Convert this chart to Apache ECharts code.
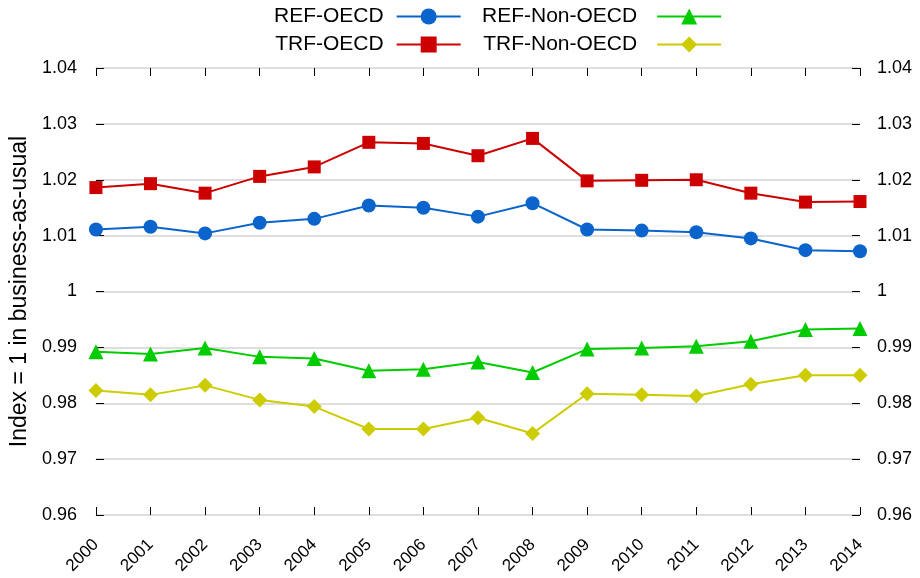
<!DOCTYPE html>
<html>
<head>
<meta charset="utf-8">
<script src="https://cdn.jsdelivr.net/npm/echarts@6/dist/echarts.min.js"></script>
<style>html,body{margin:0;padding:0;background:#fff;}#c{width:920px;height:578px;}</style>
</head>
<body>
<div id="c"></div>
<script>
const years = ['2000','2001','2002','2003','2004','2005','2006','2007','2008','2009','2010','2011','2012','2013','2014'];
const refOECD = [1.0111,1.0116,1.0104,1.0123,1.0130,1.0154,1.0150,1.0134,1.0158,1.0111,1.0109,1.0106,1.0095,1.0074,1.0072];
const trfOECD = [1.0186,1.0193,1.0176,1.0206,1.0223,1.0267,1.0265,1.0243,1.0274,1.0198,1.0199,1.0200,1.0176,1.0160,1.0161];
const refNonOECD = [0.9892,0.9888,0.9899,0.9883,0.9880,0.9858,0.9861,0.9874,0.9855,0.9897,0.9899,0.9902,0.9911,0.9932,0.9934];
const trfNonOECD = [0.9823,0.9815,0.9832,0.9806,0.9794,0.9754,0.9754,0.9774,0.9746,0.9817,0.9815,0.9813,0.9834,0.9850,0.9850];
const yMin = 0.96, yMax = 1.04, yStep = 0.01;

const FONT = "'Liberation Sans', Arial, sans-serif";
const chart = echarts.init(document.getElementById('c'));
const fmt = v => String(+v.toFixed(2));
const mk = (name, data, color, symbol, size) => ({
  name, type: 'line', data, symbol, symbolSize: size, showSymbol: true,
  xAxisIndex: 0, yAxisIndex: 0,
  lineStyle: {color, width: 2}, itemStyle: {color},
  emphasis: {disabled: true}, animation: false
});
const legendCommon = {
  orient: 'vertical', align: 'right', top: 1, itemGap: 7,
  itemWidth: 64, itemHeight: 20
};
const legText = pad => ({fontFamily: FONT, fontSize: 21, color: '#000', padding: [0, pad, 0, 0]});
chart.setOption({
  animation: false,
  textStyle: {fontFamily: FONT},
  legend: [
    Object.assign({}, legendCommon, {left: 269, textStyle: legText(8), data: ['REF-OECD', 'TRF-OECD']}),
    Object.assign({}, legendCommon, {left: 477, textStyle: legText(15), data: ['REF-Non-OECD', 'TRF-Non-OECD']})
  ],
  grid: {left: 95, right: 60, top: 68, bottom: 63, containLabel: false},
  xAxis: [
    {type: 'category', data: years, boundaryGap: false, position: 'bottom',
     axisLine: {show: false},
     axisTick: {show: true, inside: true, length: 8, lineStyle: {color: '#000', width: 1}},
     axisLabel: {rotate: 45, fontSize: 17, color: '#000', margin: 27, fontFamily: FONT},
     splitLine: {show: false}},
    {type: 'category', data: years, boundaryGap: false, position: 'top',
     axisLine: {show: false},
     axisTick: {show: true, inside: true, length: 8, lineStyle: {color: '#000', width: 1}},
     axisLabel: {show: false}, splitLine: {show: false}}
  ],
  yAxis: [
    {type: 'value', min: yMin, max: yMax, interval: yStep, position: 'left',
     name: 'Index = 1 in business-as-usual', nameLocation: 'middle', nameGap: 64,
     nameTextStyle: {fontSize: 23, color: '#000', fontFamily: FONT},
     axisLine: {show: false},
     axisTick: {show: true, inside: true, length: 8, lineStyle: {color: '#000'}},
     axisLabel: {formatter: fmt, fontSize: 18, color: '#000', margin: 19, fontFamily: FONT},
     splitLine: {show: true, lineStyle: {color: '#d3d3d3', width: 1.5}}},
    {type: 'value', min: yMin, max: yMax, interval: yStep, position: 'right',
     axisLine: {show: false},
     axisTick: {show: true, inside: true, length: 8, lineStyle: {color: '#000'}},
     axisLabel: {formatter: fmt, fontSize: 18, color: '#000', margin: 17, fontFamily: FONT},
     splitLine: {show: false}}
  ],
  series: [
    mk('REF-OECD', refOECD, '#0a64cc', 'circle', 14),
    mk('REF-Non-OECD', refNonOECD, '#00cc00', 'triangle', 15),
    mk('TRF-OECD', trfOECD, '#cc0000', 'rect', 13),
    mk('TRF-Non-OECD', trfNonOECD, '#cccc00', 'diamond', 15)
  ]
});
</script>
</body>
</html>
